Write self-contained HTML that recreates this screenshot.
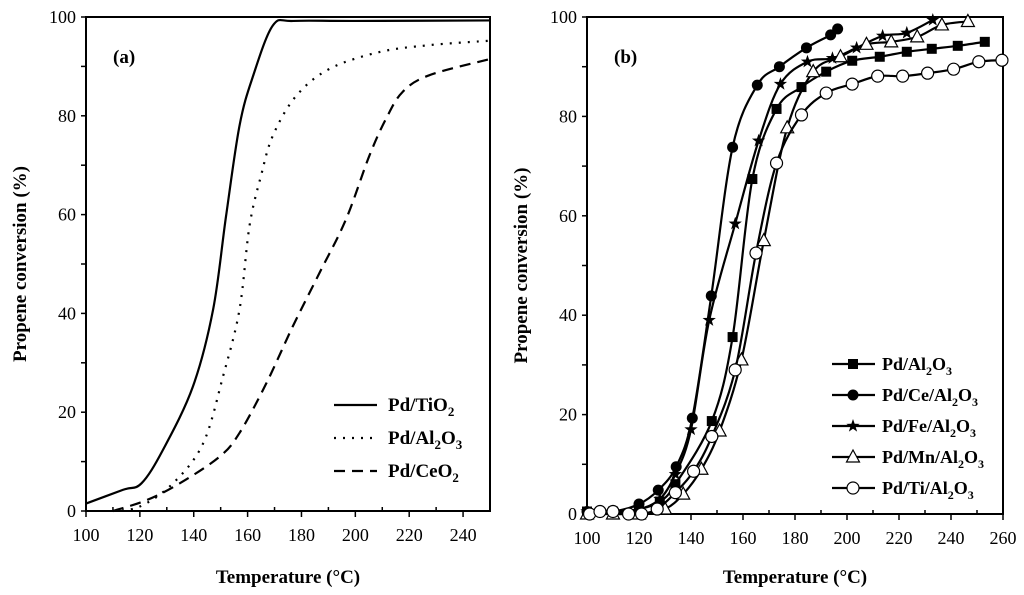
<!DOCTYPE html>
<html><head><meta charset="utf-8"><style>
body{margin:0;background:#fff;}
svg{display:block;font-family:"Liberation Serif",serif;}
</style></head><body>
<svg id="chart" width="1024" height="595" viewBox="0 0 1024 595" xmlns="http://www.w3.org/2000/svg"></svg>
<script>
// Panel (a) data
const aTiT=[100,113.8,120.6,128.6,139.7,147.2,152,157,162,169.4,177,200,250];
const aTiV=[1.5,4.3,5.6,12.4,25.2,40.8,59.7,78,88,98.3,99.2,99.2,99.3];
const aAlT=[110,120,132.3,143.5,150.9,157,160.7,165,169.4,178,190.4,208.9,227.4,250];
const aAlV=[0,0.9,5.6,13.7,27.3,40.8,57.7,67.9,76,84,89.5,92.9,94.3,95.2];
const aCeT=[110,122.5,134.8,149.6,157,167,176.8,186.7,196.5,205.2,211.4,217.5,227.4,250];
const aCeV=[0,2.2,5.6,11,15.8,25.9,37.4,48.2,59,71.9,79.4,84.8,88.2,91.5];
// Panel (b) data
const bAlT=[100,110,120,128,134,148,156,163.6,172.9,182.5,192,202,212.6,223,232.6,242.6,253];
const bAlV=[0.5,0.5,1,2.5,6,18.7,35.6,67.4,81.5,85.9,89,91.2,92,93,93.6,94.2,95];
const bCeT=[100,110,120,127.4,134.3,140.5,147.8,156,165.5,174,184.4,193.7,196.4];
const bCeV=[0.5,0.5,2,4.8,9.5,19.3,43.9,73.8,86.3,90,93.8,96.4,97.6];
const bFeT=[100,110,120,128,134,140,147,157,166,174.4,184.8,194.4,203.7,213.7,223,233];
const bFeV=[0.5,0.5,1,3,8,17,39,58.4,75.1,86.5,91,91.7,93.8,96.2,96.8,99.4];
const bMnT=[100,110,120,130,137,144,151,159.4,168,177,187,197.5,207.5,217,227,236.5,246.5];
const bMnV=[0,0,0,1,4,9,16.7,31,55,77.7,89,92,94.5,95,96,98.4,99.1];
const bTiT=[101,105,110,116,121,127,134,141,148,157,165,172.9,182.5,192,202,211.8,221.4,231,241,250.7,259.6];
const bTiV=[0,0.5,0.5,0,0,1,4.3,8.6,15.6,29,52.5,70.6,80.3,84.7,86.5,88.1,88.1,88.7,89.5,91,91.3];
const aXTicks=[100,120,140,160,180,200,220,240];
const bXTicks=[100,120,140,160,180,200,220,240,260];
const yTicks=[0,20,40,60,80,100];

const NS="http://www.w3.org/2000/svg";
const svg=document.getElementById('chart');
function mk(tag,attrs,parent){const e=document.createElementNS(NS,tag);for(const k in attrs)e.setAttribute(k,attrs[k]);(parent||svg).appendChild(e);return e;}
function smooth(pts){let d=`M${pts[0][0]},${pts[0][1]}`;for(let i=0;i<pts.length-1;i++){const p0=pts[Math.max(0,i-1)],p1=pts[i],p2=pts[i+1],p3=pts[Math.min(pts.length-1,i+2)];const c1=[p1[0]+(p2[0]-p0[0])/6,p1[1]+(p2[1]-p0[1])/6],c2=[p2[0]-(p3[0]-p1[0])/6,p2[1]-(p3[1]-p1[1])/6];d+=` C${c1[0]},${c1[1]} ${c2[0]},${c2[1]} ${p2[0]},${p2[1]}`;}return d;}

function panel(name,x0,x1,y0,y1,tmin,tmax,xt){
  const g=mk('g',{});
  
  
  const sx=t=>x0+(t-tmin)/(tmax-tmin)*(x1-x0);
  const sy=v=>y0-v/100*(y0-y1);
  const fr=mk('rect',{x:x0,y:y1,width:x1-x0,height:y0-y1,fill:'none',stroke:'#000','stroke-width':2},g);
  
  
  for(let t=tmin;t<=tmax;t+=10){const maj=(t%20===0);mk('line',{x1:sx(t),x2:sx(t),y1:y0,y2:maj?y0+6:y0-4,stroke:'#000','stroke-width':1.5},g);}
  xt.forEach(t=>{const tx=mk('text',{x:sx(t),y:y0+30,'text-anchor':'middle','font-size':18},g);tx.textContent=t;
    
    });
  for(let v=0;v<=100;v+=10){mk('line',{x1:x0-5,x2:x0,y1:sy(v),y2:sy(v),stroke:'#000','stroke-width':1.5},g);}
  yTicks.forEach(v=>{const tx=mk('text',{x:x0-10,y:sy(v)+6,'text-anchor':'end','font-size':18},g);tx.textContent=v;
    
    });
  const xtl=mk('text',{x:(x0+x1)/2,y:583,'text-anchor':'middle','font-size':19,'font-weight':'bold'},g);xtl.textContent='Temperature (°C)';
  
  
  const cy=(y0+y1)/2, cx=x0-60;
  const ytl=mk('text',{x:cx,y:cy,'text-anchor':'middle','font-size':19,'font-weight':'bold',transform:`rotate(-90 ${cx} ${cy})`},g);ytl.textContent='Propene conversion (%)';
  
  
  return {g,sx,sy};
}
function curve(p,T,V,name,dash){
  const pts=T.map((t,i)=>[p.sx(t),p.sy(V[i])]);
  const path=mk('path',{d:smooth(pts),fill:'none',stroke:'#000','stroke-width':2.2,'stroke-dasharray':dash||'none'},p.g);
  
  
  return pts;
}
function marker(g,x,y,type){
  let m;
  if(type==='sq')m=mk('rect',{x:x-5,y:y-5,width:10,height:10,fill:'#000'},g);
  else if(type==='fc')m=mk('circle',{cx:x,cy:y,r:5.5,fill:'#000'},g);
  else if(type==='oc')m=mk('circle',{cx:x,cy:y,r:6,fill:'#fff',stroke:'#000','stroke-width':1.2},g);
  else if(type==='tr')m=mk('polygon',{points:`${x},${y-7} ${x-6.5},${y+5} ${x+6.5},${y+5}`,fill:'#fff',stroke:'#000','stroke-width':1.2},g);
  else {let s='';for(let i=0;i<10;i++){const r=i%2?2.8:7,a=-Math.PI/2+i*Math.PI/5;s+=`${x+r*Math.cos(a)},${y+r*Math.sin(a)} `;}m=mk('polygon',{points:s,fill:'#000'},g);}
  return m;
}
// Panel a
const A=panel('panel-a',86,490,511,17,100,250,aXTicks);
curve(A,aTiT,aTiV,'series-pd-tio2');
curve(A,aAlT,aAlV,'series-pd-al2o3','2,7');
curve(A,aCeT,aCeV,'series-pd-ceo2','11,7');
const la=mk('text',{x:113,y:63,'font-size':19,'font-weight':'bold'},A.g);la.textContent='(a)';


const legA=[['Pd/TiO','2','','none'],['Pd/Al','2','O','2,7'],['Pd/CeO','2','','11,7']];
legA.forEach((L,i)=>{const y=411+i*33;
  const lg=mk('g',{},A.g);
  
  
  mk('line',{x1:334,x2:377,y1:y-6,y2:y-6,stroke:'#000','stroke-width':2.2,'stroke-dasharray':L[3]},lg);
  const t=mk('text',{x:388,y:y,'font-size':19,'font-weight':'bold'},lg);
  t.innerHTML=L[2]?`${L[0]}<tspan dy="5" font-size="13">2</tspan><tspan dy="-5">O</tspan><tspan dy="5" font-size="13">3</tspan>`:`${L[0]}<tspan dy="5" font-size="13">${L[1]}</tspan>`;
});
// Panel b
const B=panel('panel-b',587,1003,514,17,100,260,bXTicks);
const series=[[bAlT,bAlV,'sq','series-pd-al2o3','Pd/Al'],[bCeT,bCeV,'fc','series-pd-ce-al2o3','Pd/Ce/Al'],[bFeT,bFeV,'st','series-pd-fe-al2o3','Pd/Fe/Al'],[bMnT,bMnV,'tr','series-pd-mn-al2o3','Pd/Mn/Al'],[bTiT,bTiV,'oc','series-pd-ti-al2o3','Pd/Ti/Al']];
series.forEach(s=>{const pts=curve(B,s[0],s[1],s[3]);
  pts.forEach(p=>{const m=marker(B.g,p[0],p[1],s[2]);
    
    });});
const lb=mk('text',{x:614,y:63,'font-size':19,'font-weight':'bold'},B.g);lb.textContent='(b)';


series.forEach((s,i)=>{const y=370+i*31;
  const lg=mk('g',{},B.g);
  
  
  mk('line',{x1:832,x2:875,y1:y-6,y2:y-6,stroke:'#000','stroke-width':2.2},lg);
  marker(lg,853,y-6,s[2]);
  const t=mk('text',{x:882,y:y,'font-size':18,'font-weight':'bold'},lg);
  t.innerHTML=`${s[4]}<tspan dy="5" font-size="12">2</tspan><tspan dy="-5">O</tspan><tspan dy="5" font-size="12">3</tspan>`;
});
</script>
</body></html>
